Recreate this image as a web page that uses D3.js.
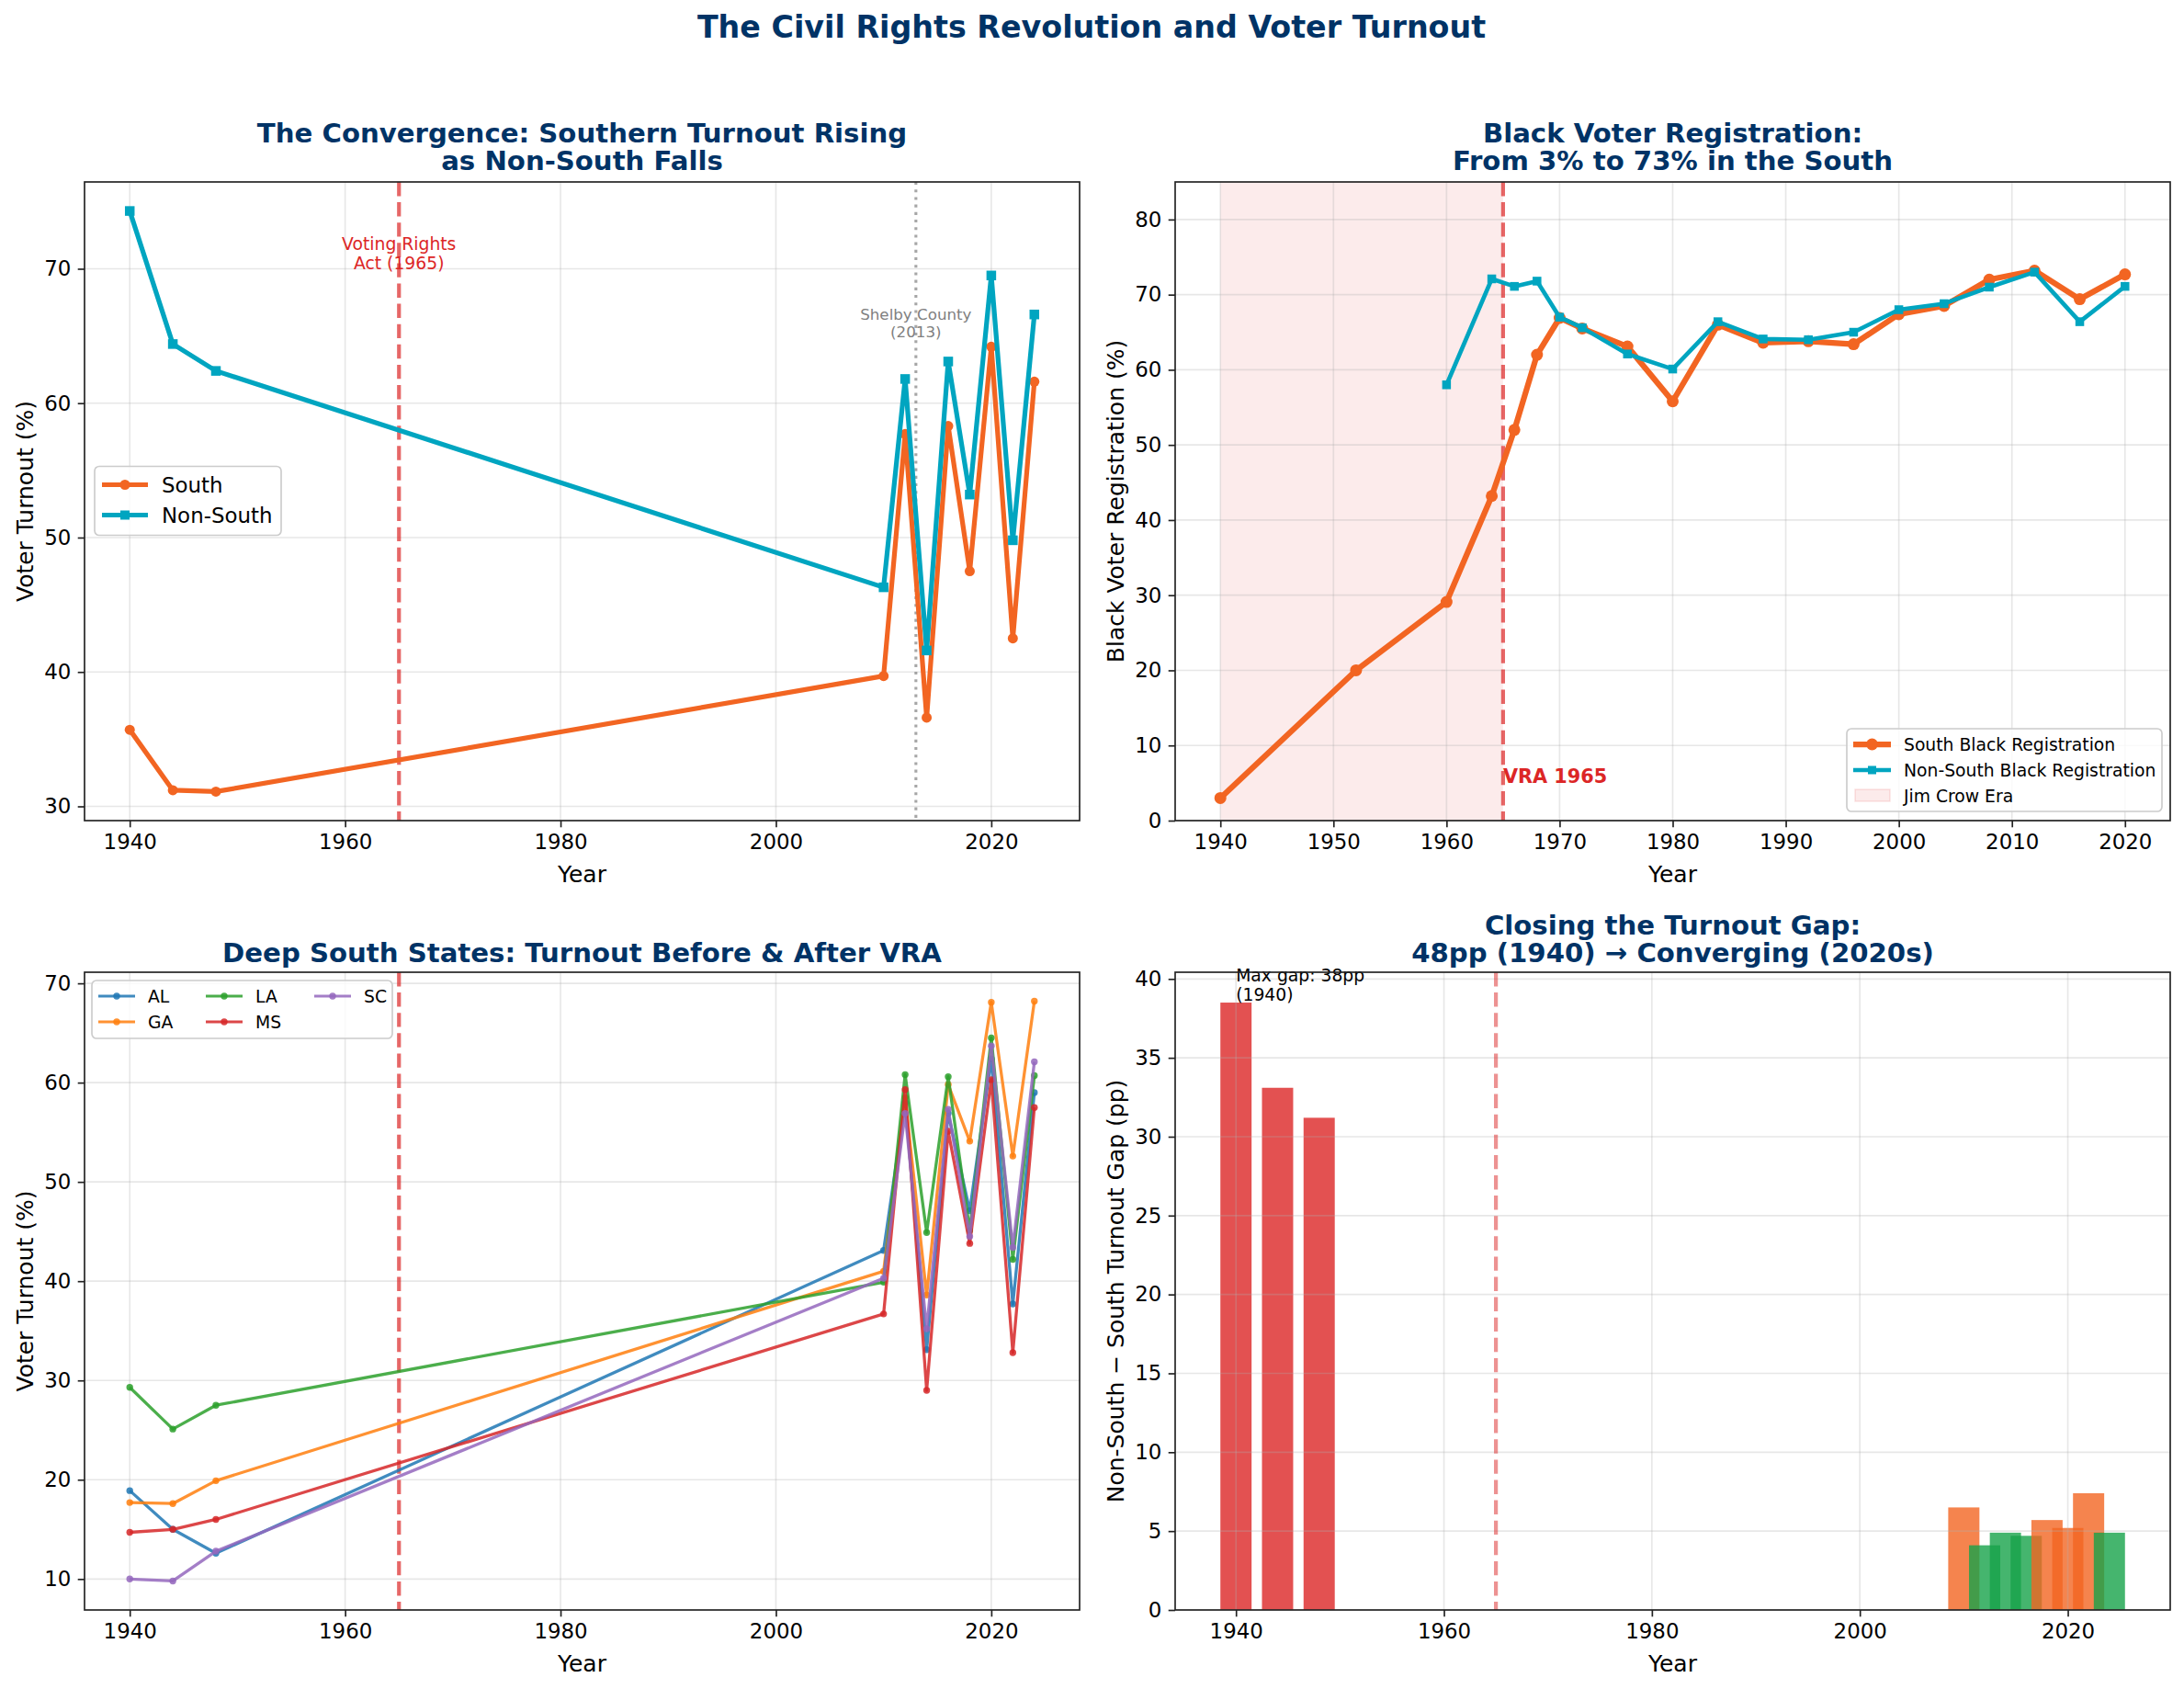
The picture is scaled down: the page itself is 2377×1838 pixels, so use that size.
<!DOCTYPE html>
<html>
<head>
<meta charset="utf-8">
<script src="https://cdn.jsdelivr.net/npm/d3@7"></script>
<style>
body{margin:0;background:#fff}
svg{display:block}
text{font-family:"DejaVu Sans",sans-serif}
</style>
</head>
<body>
<svg id="fig" width="2377" height="1838"></svg>
<script>
// turnout, south vs non-south
const turnoutYears = [1940,1944,1948,2010,2012,2014,2016,2018,2020,2022,2024]
const southTurnout = [35.7,31.2,31.1,39.7,57.7,36.6,58.3,47.5,64.2,42.5,61.6]
const nonSouthTurnout = [74.3,64.4,62.4,46.3,61.8,41.6,63.1,53.2,69.5,49.8,66.6]

// black voter registration
const regSouthYears = [1940,1952,1960,1964,1966,1968,1970,1972,1976,1980,1984,1988,1992,1996,2000,2004,2008,2012,2016,2020]
const regSouth = [3.0,20.0,29.1,43.2,52.0,62.0,66.9,65.5,63.1,55.8,66.0,63.6,63.8,63.4,67.4,68.5,72.0,73.2,69.4,72.7]
const regNonSouthYears = [1960,1964,1966,1968,1970,1972,1976,1980,1984,1988,1992,1996,2000,2004,2008,2012,2016,2020]
const regNonSouth = [58.0,72.1,71.1,71.8,67.0,65.6,62.1,60.1,66.4,64.1,64.0,65.0,68.0,68.8,71.0,73.0,66.4,71.1]

// deep south states (same years as turnoutYears)
const stateNames = ["AL","GA","LA","MS","SC"]
const stateColors = ["#1f77b4","#ff7f0e","#2ca02c","#d62728","#9467bd"]
const alTurnout = [18.9,15.0,12.6,43.1,58.0,33.1,56.9,47.1,62.4,37.7,59.0]
const gaTurnout = [17.7,17.6,19.9,41.0,58.5,38.6,59.8,54.1,68.1,52.6,68.2]
const laTurnout = [29.3,25.1,27.5,39.9,60.8,44.9,60.6,45.1,64.5,42.2,60.7]
const msTurnout = [14.7,15.0,16.0,36.7,59.3,29.0,55.1,43.8,60.3,32.8,57.5]
const scTurnout = [10.0,9.8,12.8,40.3,56.9,35.2,57.3,44.5,63.7,43.4,62.1]

// gap bars
const gapValues = [38.5,33.1,31.2,6.5,4.1,4.9,4.7,5.7,5.2,7.4,4.9]

const yearTicks20 = [1940,1960,1980,2000,2020]
const yearTicks10 = [1940,1950,1960,1970,1980,1990,2000,2010,2020]

const NAVY = "#003366", ORANGE = "#f26522", TEAL = "#00a5c0", RED = "#dc2626", GREEN = "#16a34a"

const svg = d3.select("#fig")
svg.append("rect").attr("width",2377).attr("height",1838).attr("fill","#fff")

function padDomain(vals,frac){
  let lo=d3.min(vals),hi=d3.max(vals),p=(hi-lo)*frac
  return [lo-p,hi+p]
}

// builds one subplot: grid, spines, ticks, labels. returns scales and layers
function makeAxes(box,xdom,ydom,xticks,yticks,ylabel){
  let g = svg.append("g")
  let x = d3.scaleLinear().domain(xdom).range([box.l,box.r])
  let y = d3.scaleLinear().domain(ydom).range([box.b,box.t])
  let back = g.append("g"), grid = g.append("g"), data = g.append("g"), front = g.append("g")
  grid.selectAll(".gx").data(xticks).enter().append("line")
    .attr("x1",d=>x(d)).attr("x2",d=>x(d)).attr("y1",box.t).attr("y2",box.b)
    .attr("stroke","#b0b0b0").attr("stroke-opacity",0.3).attr("stroke-width",1.67)
  grid.selectAll(".gy").data(yticks).enter().append("line")
    .attr("x1",box.l).attr("x2",box.r).attr("y1",d=>y(d)).attr("y2",d=>y(d))
    .attr("stroke","#b0b0b0").attr("stroke-opacity",0.3).attr("stroke-width",1.67)

  let ax = front.append("g").attr("transform",`translate(0,${box.b})`)
    .call(d3.axisBottom(x).tickValues(xticks).tickSize(7.3).tickPadding(7.3).tickFormat(d3.format("d")))
  let ay = front.append("g").attr("transform",`translate(${box.l},0)`)
    .call(d3.axisLeft(y).tickValues(yticks).tickSize(7.3).tickPadding(7.3).tickFormat(d3.format("d")))
  ;[ax,ay].forEach(a=>{
    a.select(".domain").remove()
    a.selectAll(".tick line").attr("stroke","#222").attr("stroke-width",1.67)
    a.selectAll(".tick text").attr("font-size","22.9px").attr("fill","#000")
      .style("font-family","DejaVu Sans")
  })
  front.append("rect").attr("x",box.l).attr("y",box.t).attr("width",box.r-box.l).attr("height",box.b-box.t)
    .attr("fill","none").attr("stroke","#222").attr("stroke-width",1.67)

  front.append("text").text("Year").attr("x",(box.l+box.r)/2).attr("y",box.b+67)
    .attr("text-anchor","middle").attr("font-size","25px")
  let cy=(box.t+box.b)/2
  front.append("text").text(ylabel).attr("transform",`translate(${box.l-56},${cy}) rotate(-90)`)
    .attr("text-anchor","middle").attr("font-size","25px")
  return {x,y,back,grid,data,front,box}
}

function title(lines,cx,lastBaseline){
  lines.forEach((t,i)=>{
    svg.append("text").text(t).attr("x",cx).attr("y",lastBaseline-(lines.length-1-i)*30.5)
      .attr("text-anchor","middle").attr("font-size","29.2px").attr("font-weight","bold").attr("fill",NAVY)
  })
}

function drawLine(layer,x,y,xs,ys,color,lw,opacity){
  let line = d3.line().x((d,i)=>x(xs[i])).y(d=>y(d))
  layer.append("path").datum(ys).attr("d",line).attr("fill","none").attr("stroke",color)
    .attr("stroke-width",lw).attr("stroke-linejoin","round").attr("stroke-opacity",opacity||1)
}
function drawCircles(layer,x,y,xs,ys,color,r,opacity){
  layer.selectAll(null).data(ys).enter().append("circle")
    .attr("cx",(d,i)=>x(xs[i])).attr("cy",d=>y(d)).attr("r",r).attr("fill",color).attr("fill-opacity",opacity||1)
}
function drawSquares(layer,x,y,xs,ys,color,s){
  layer.selectAll(null).data(ys).enter().append("rect")
    .attr("x",(d,i)=>x(xs[i])-s/2).attr("y",d=>y(d)-s/2).attr("width",s).attr("height",s).attr("fill",color)
}
function vline(a,xv,color,lw,dash,opacity){
  a.data.append("line").attr("x1",a.x(xv)).attr("x2",a.x(xv)).attr("y1",a.box.t).attr("y2",a.box.b)
    .attr("stroke",color).attr("stroke-width",lw).attr("stroke-dasharray",dash).attr("stroke-opacity",opacity)
}
function legendBox(layer,x0,y0,w,h){
  layer.append("rect").attr("x",x0).attr("y",y0).attr("width",w).attr("height",h).attr("rx",5)
    .attr("fill","#fff").attr("fill-opacity",0.8).attr("stroke","#cccccc").attr("stroke-width",1.67)
}

// main title
svg.append("text").text("The Civil Rights Revolution and Voter Turnout").attr("x",1188).attr("y",41)
  .attr("text-anchor","middle").attr("font-size","33.3px").attr("font-weight","bold").attr("fill",NAVY)

// ---------- panel 1 : convergence
let a1 = makeAxes({l:92,r:1175,t:198,b:893},padDomain(turnoutYears,0.05),
  padDomain(southTurnout.concat(nonSouthTurnout),0.05),yearTicks20,[30,40,50,60,70],"Voter Turnout (%)")
title(["The Convergence: Southern Turnout Rising","as Non-South Falls"],633.5,185)
vline(a1,1965,RED,4.2,"15.4,6.7",0.7)
vline(a1,2013,"#808080",3.1,"3.1,5.1",0.7)
drawLine(a1.data,a1.x,a1.y,turnoutYears,southTurnout,ORANGE,5.2)
drawCircles(a1.data,a1.x,a1.y,turnoutYears,southTurnout,ORANGE,5.5)
drawLine(a1.data,a1.x,a1.y,turnoutYears,nonSouthTurnout,TEAL,5.2)
drawSquares(a1.data,a1.x,a1.y,turnoutYears,nonSouthTurnout,TEAL,10.5)
;["Voting Rights","Act (1965)"].forEach((t,i)=>{
  a1.data.append("text").text(t).attr("x",a1.x(1965)).attr("y",a1.y(71.4)+i*21)
    .attr("text-anchor","middle").attr("font-size","18.75px").attr("fill",RED)
})
;["Shelby County","(2013)"].forEach((t,i)=>{
  a1.data.append("text").text(t).attr("x",a1.x(2013)).attr("y",a1.y(66.2)+i*18.5)
    .attr("text-anchor","middle").attr("font-size","16.7px").attr("fill","#808080")
})
{
  let lx=a1.box.l+11, ly=(a1.box.t+a1.box.b)/2-38
  legendBox(a1.front,lx,ly,203,75)
  let items=[["South",ORANGE,"c"],["Non-South",TEAL,"s"]]
  items.forEach((it,i)=>{
    let cy=ly+20+i*33
    a1.front.append("line").attr("x1",lx+8).attr("x2",lx+58).attr("y1",cy).attr("y2",cy)
      .attr("stroke",it[1]).attr("stroke-width",5.2)
    if(it[2]=="c") a1.front.append("circle").attr("cx",lx+33).attr("cy",cy).attr("r",5.5).attr("fill",it[1])
    else a1.front.append("rect").attr("x",lx+28).attr("y",cy-5).attr("width",10).attr("height",10).attr("fill",it[1])
    a1.front.append("text").text(it[0]).attr("x",lx+73).attr("y",cy+8.2).attr("font-size","22.9px")
  })
}

// ---------- panel 2 : registration
let a2 = makeAxes({l:1279,r:2362,t:198,b:893},padDomain([1940,2020],0.05),[0,85],
  yearTicks10,[0,10,20,30,40,50,60,70,80],"Black Voter Registration (%)")
title(["Black Voter Registration:","From 3% to 73% in the South"],1820.5,185)
a2.back.append("rect").attr("x",a2.x(1940)).attr("y",a2.box.t).attr("width",a2.x(1965)-a2.x(1940))
  .attr("height",a2.box.b-a2.box.t).attr("fill",RED).attr("fill-opacity",0.09)
vline(a2,1965,RED,4.2,"15.4,6.7",0.7)
drawLine(a2.data,a2.x,a2.y,regSouthYears,regSouth,ORANGE,6.25)
drawCircles(a2.data,a2.x,a2.y,regSouthYears,regSouth,ORANGE,6.5)
drawLine(a2.data,a2.x,a2.y,regNonSouthYears,regNonSouth,TEAL,4.6)
drawSquares(a2.data,a2.x,a2.y,regNonSouthYears,regNonSouth,TEAL,9.5)
a2.data.append("text").text("VRA 1965").attr("x",a2.x(1965)).attr("y",a2.y(5))
  .attr("font-size","20.8px").attr("font-weight","bold").attr("fill",RED)
{
  let lx=a2.box.r-9-343, ly=a2.box.b-10-90
  legendBox(a2.front,lx,ly,343,90)
  let labels=["South Black Registration","Non-South Black Registration","Jim Crow Era"]
  labels.forEach((t,i)=>{
    let cy=ly+17+i*28
    if(i==0){
      a2.front.append("line").attr("x1",lx+7).attr("x2",lx+48).attr("y1",cy).attr("y2",cy).attr("stroke",ORANGE).attr("stroke-width",6.25)
      a2.front.append("circle").attr("cx",lx+27.5).attr("cy",cy).attr("r",6.5).attr("fill",ORANGE)
    } else if(i==1){
      a2.front.append("line").attr("x1",lx+7).attr("x2",lx+48).attr("y1",cy).attr("y2",cy).attr("stroke",TEAL).attr("stroke-width",4.6)
      a2.front.append("rect").attr("x",lx+23).attr("y",cy-4.5).attr("width",9).attr("height",9).attr("fill",TEAL)
    } else {
      a2.front.append("rect").attr("x",lx+9).attr("y",cy-7).attr("width",38).attr("height",13)
        .attr("fill",RED).attr("fill-opacity",0.09).attr("stroke",RED).attr("stroke-opacity",0.12).attr("stroke-width",1.5)
    }
    a2.front.append("text").text(t).attr("x",lx+62).attr("y",cy+6.7).attr("font-size","18.75px")
  })
}

// ---------- panel 3 : deep south states
const stateSeries = [alTurnout,gaTurnout,laTurnout,msTurnout,scTurnout]
let a3 = makeAxes({l:92,r:1175,t:1058,b:1752},padDomain(turnoutYears,0.05),
  padDomain(d3.merge(stateSeries),0.05),yearTicks20,[10,20,30,40,50,60,70],"Voter Turnout (%)")
title(["Deep South States: Turnout Before & After VRA"],633.5,1047)
vline(a3,1965,RED,4.2,"15.4,6.7",0.7)
stateSeries.forEach((s,k)=>{
  drawLine(a3.data,a3.x,a3.y,turnoutYears,s,stateColors[k],3.3,0.85)
  drawCircles(a3.data,a3.x,a3.y,turnoutYears,s,stateColors[k],3.7,0.85)
})
{
  let lx=a3.box.l+8, ly=a3.box.t+9
  legendBox(a3.front,lx,ly,327,63)
  let cols=[0,117,235]
  stateNames.forEach((n,k)=>{
    let col=Math.floor(k/2), row=k%2
    let hx=lx+7+cols[col], cy=ly+17+row*28
    a3.front.append("line").attr("x1",hx).attr("x2",hx+40).attr("y1",cy).attr("y2",cy)
      .attr("stroke",stateColors[k]).attr("stroke-width",3.1).attr("stroke-opacity",0.85)
    a3.front.append("circle").attr("cx",hx+20).attr("cy",cy).attr("r",3.7).attr("fill",stateColors[k]).attr("fill-opacity",0.85)
    a3.front.append("text").text(n).attr("x",hx+54).attr("y",cy+6.7).attr("font-size","18.75px")
  })
}

// ---------- panel 4 : gap bars
const barW = 3
let a4 = makeAxes({l:1279,r:2362,t:1058,b:1752},
  padDomain([d3.min(turnoutYears)-barW/2,d3.max(turnoutYears)+barW/2],0.05),[0,d3.max(gapValues)*1.05],
  yearTicks20,[0,5,10,15,20,25,30,35,40],"Non-South \u2212 South Turnout Gap (pp)")
title(["Closing the Turnout Gap:","48pp (1940) \u2192 Converging (2020s)"],1820.5,1047)
a4.back.selectAll(null).data(gapValues).enter().append("rect")
  .attr("x",(d,i)=>a4.x(turnoutYears[i]-barW/2)).attr("width",(d,i)=>a4.x(turnoutYears[i]+barW/2)-a4.x(turnoutYears[i]-barW/2))
  .attr("y",d=>a4.y(d)).attr("height",d=>a4.y(0)-a4.y(d))
  .attr("fill",d=>d>20?RED:(d>5?ORANGE:GREEN)).attr("fill-opacity",0.8)
vline(a4,1965,RED,4.2,"15.4,6.7",0.5)
;["Max gap: 38pp","(1940)"].forEach((t,i)=>{
  a4.data.append("text").text(t).attr("x",a4.x(turnoutYears[0])).attr("y",a4.y(gapValues[0])-23+i*21)
    .attr("font-size","18.75px")
})
</script>
</body>
</html>
